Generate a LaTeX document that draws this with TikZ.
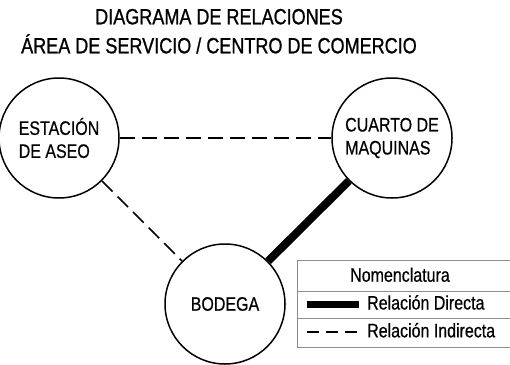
\documentclass[tikz,border=0pt]{standalone}
\usepackage{fontspec}
\setmainfont{Liberation Sans}
\newfontfamily\narrowfont[FakeStretch=0.82, FakeBold=0.5]{Liberation Sans}
\newfontfamily\narrowtitle[FakeStretch=0.82, FakeBold=0.9]{Liberation Sans}
\usetikzlibrary{positioning}
\definecolor{lingray}{HTML}{8C8C8C}

\tikzset{
  espacio/.style={circle, draw, line width=1.5pt, minimum size=120pt, inner sep=0pt,
    align=left, font=\narrowfont\fontsize{19.5}{23}\selectfont},
  directa/.style={line width=8pt},
  indirecta/.style={line width=1.6pt, dash pattern=on 15pt off 7pt},
  leyenda/.style={anchor=base west, inner sep=0pt, font=\narrowfont\fontsize{19.5}{22}\selectfont},
  titular/.style={anchor=base, inner sep=0pt, font=\narrowtitle\fontsize{22}{26}\selectfont},
}

\begin{document}
\begin{tikzpicture}[x=1pt, y=-1pt]
\useasboundingbox (0,0) rectangle (510,364);

% Title
\node[titular] (titulo) at (219,24.3) {DIAGRAMA DE RELACIONES};
\node[titular] (subtitulo) at (219,53.3) {ÁREA DE SERVICIO / CENTRO DE COMERCIO};

% Spaces
\node[espacio] (estacion) at (59,138) {ESTACIÓN\\DE ASEO};
\node[espacio] (cuarto) at (392,138) {CUARTO DE\\MAQUINAS};
\node[espacio] (bodega) at (225,304) {BODEGA};

% Relations
\draw[indirecta] (estacion) -- (cuarto);
\draw[indirecta] (estacion) -- (bodega);
\draw[directa] (cuarto) -- (bodega);

% Legend box
\draw[lingray, line width=0.8pt] (297,260) rectangle (512,347);
\draw[lingray, line width=0.8pt] (297,291) -- (512,291) (297,318) -- (512,318);
\node[leyenda, anchor=base] (nomen) at (400,281.7) {Nomenclatura};

\coordinate (dirA) at (307,304);
\coordinate (dirB) at (359,304);
\draw[line width=7pt] (dirA) -- (dirB);
\node[leyenda] (txtdir) at (367,309.5) {Relación Directa};

\coordinate (indA) at (307,332);
\coordinate (indB) at (361,332);
\draw[line width=1.4pt, dash pattern=on 12pt off 7pt] (indA) -- (indB);
\node[leyenda] (txtind) at (367,337.3) {Relación Indirecta};

\end{tikzpicture}
\end{document}
